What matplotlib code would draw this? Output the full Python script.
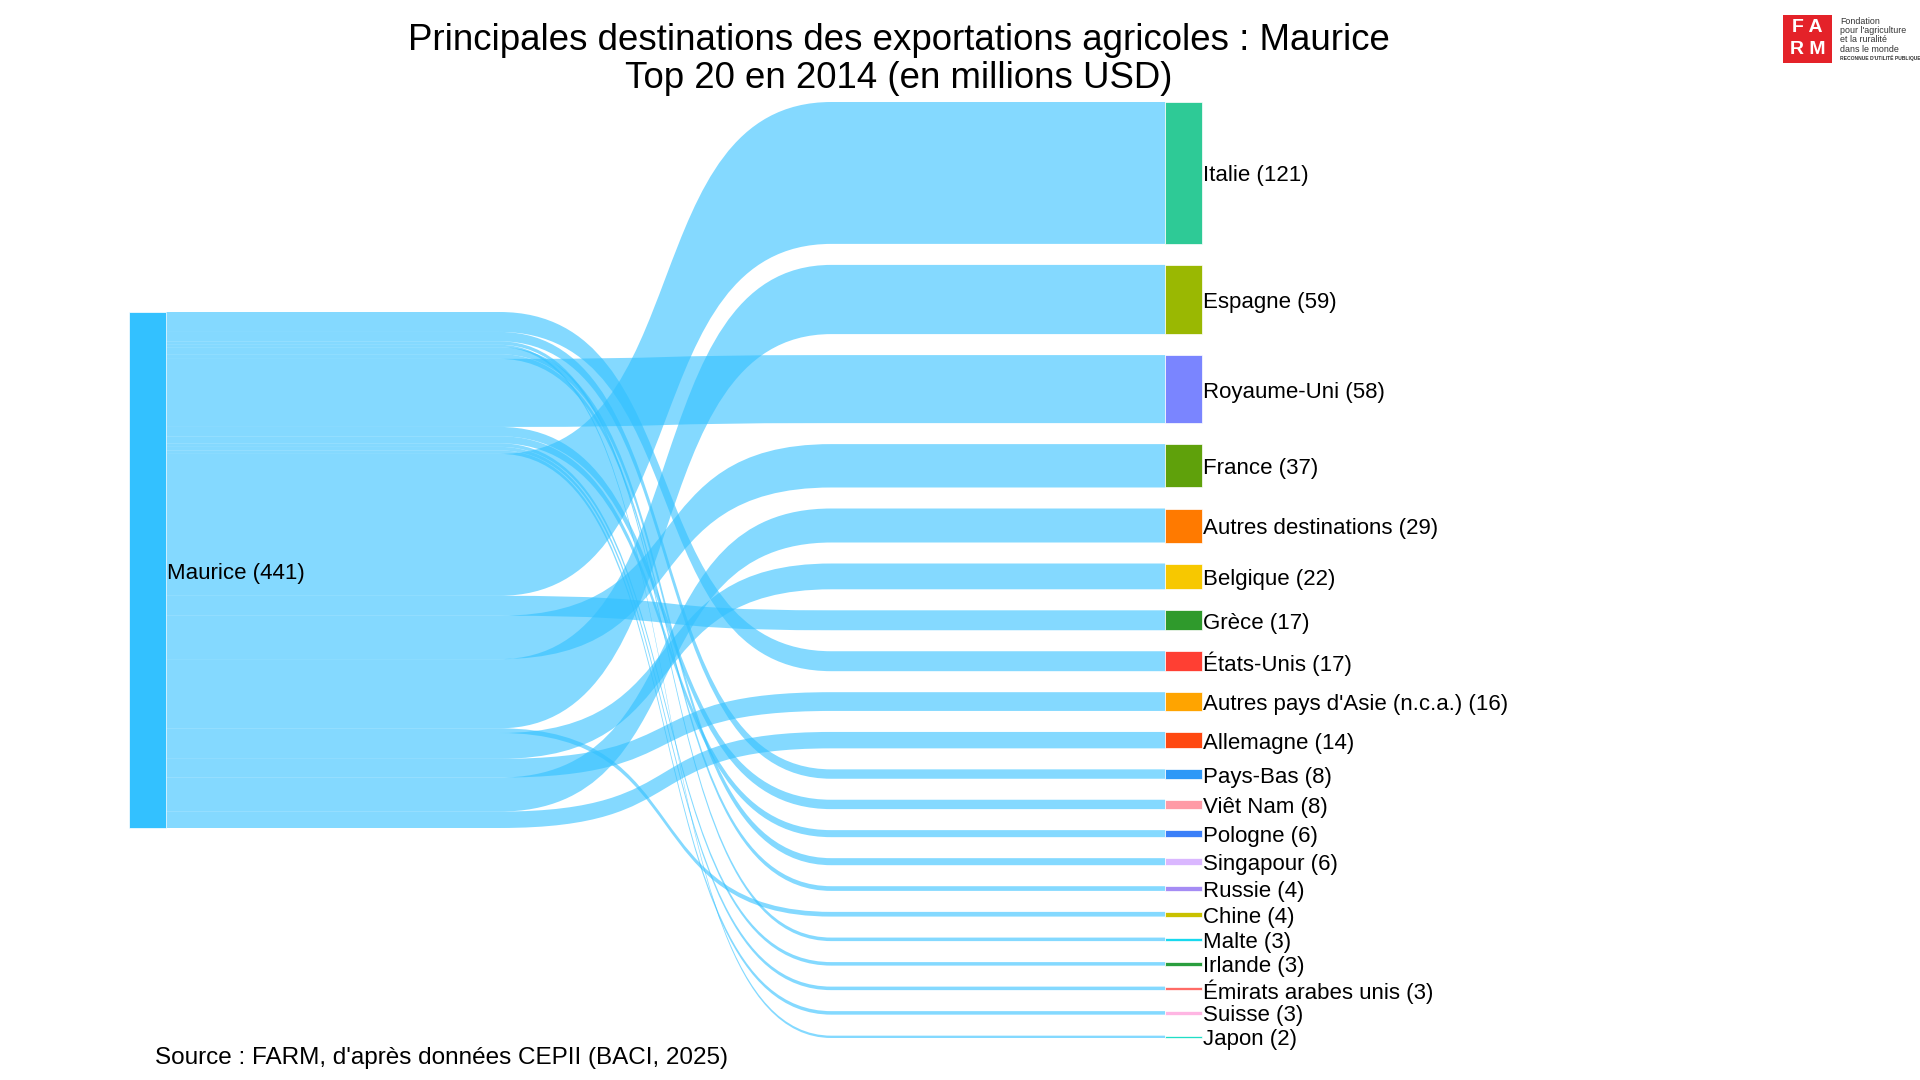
import matplotlib
matplotlib.use("Agg")
import matplotlib.pyplot as plt
from matplotlib.path import Path
from matplotlib.patches import PathPatch, Rectangle

plt.rcParams["font.family"] = ["Liberation Sans", "DejaVu Sans"]

# --- data (millions USD, 2014) ---
source_name = "Maurice"
source_total = 441
targets = ["Italie", "Espagne", "Royaume-Uni", "France", "Autres destinations",
           "Belgique", "Grèce", "États-Unis", "Autres pays d'Asie (n.c.a.)",
           "Allemagne", "Pays-Bas", "Viêt Nam", "Pologne", "Singapour", "Russie",
           "Chine", "Malte", "Irlande", "Émirats arabes unis", "Suisse", "Japon"]
values = [121, 59, 58, 37, 29, 22, 17, 17, 16, 14, 8, 8, 6, 6, 4, 4, 3, 3, 3, 3, 2]
colors = ["#2ECA96", "#9AB802", "#7A85FF", "#5FA10B", "#FF7A00", "#F7C800",
          "#2F9A2C", "#FF3F33", "#FFA400", "#FF4810", "#2E98F7", "#FF9AA6",
          "#3A7FF8", "#DAB7FF", "#A58CF4", "#C9C100", "#18D9EE", "#2A9E3E",
          "#FF6B66", "#FFB6E3", "#20DEC6"]
# order in which the flows leave the source node (top to bottom)
source_order = ["États-Unis", "Pays-Bas", "Malte", "Japon", "Singapour", "Russie",
                "Royaume-Uni", "Viêt Nam", "Pologne", "Irlande",
                "Émirats arabes unis", "Suisse", "Italie", "Grèce", "France",
                "Espagne", "Chine", "Belgique", "Autres pays d'Asie (n.c.a.)",
                "Autres destinations", "Allemagne"]

# --- layout (pixels) ---
W, H = 1920, 1080
node_w = 37
x_src = 129
x_tgt = 1165
top, bottom = 102, 1038
pad = 21
bend = 332          # horizontal extent of the S-bend in the middle of each link
ctrl = 0.6          # bezier control position inside the bend
src_color = "#33C1FF"
link_color = (50 / 255, 193 / 255, 1.0, 0.6)
label_size = 16
label_dy = 3        # nudge labels down to line up with node centres

fig = plt.figure(figsize=(W / 100, H / 100), dpi=100)
ax = fig.add_axes([0, 0, 1, 1])
ax.set_xlim(0, W)
ax.set_ylim(H, 0)
ax.axis("off")

k = (bottom - top - pad * (len(values) - 1)) / sum(values)

# target nodes
tgt_pos = {}
y = top
for name, v, c in zip(targets, values, colors):
    h = v * k
    tgt_pos[name] = (y, y + h)
    ax.add_patch(Rectangle((x_tgt, y), node_w, h, facecolor=c,
                           edgecolor="white", linewidth=0.5, zorder=3))
    ax.text(x_tgt + node_w + 1, y + h / 2 + label_dy, f"{name} ({v})",
            fontsize=label_size, va="center", ha="left", color="black", zorder=4)
    y += h + pad

# source node
src_h = sum(values) * k
src_y0 = (top + bottom) / 2 - src_h / 2
ax.add_patch(Rectangle((x_src, src_y0), node_w, src_h, facecolor=src_color,
                       edgecolor="white", linewidth=0.5, zorder=3))
ax.text(x_src + node_w + 1, src_y0 + src_h / 2 + label_dy,
        f"{source_name} ({source_total})", fontsize=label_size,
        va="center", ha="left", zorder=4)

# links
vmap = dict(zip(targets, values))
x0 = x_src + node_w
x1 = x_tgt
xm = (x0 + x1) / 2
xa, xb = xm - bend / 2, xm + bend / 2
c1 = xa + ctrl * bend
c2 = xa + (1 - ctrl) * bend
sy = src_y0
for name in source_order:
    h = vmap[name] * k
    ty0, ty1 = tgt_pos[name]
    verts = [(x0, sy), (xa, sy), (c1, sy), (c2, ty0), (xb, ty0), (x1, ty0),
             (x1, ty1), (xb, ty1), (c2, ty1), (c1, sy + h), (xa, sy + h),
             (x0, sy + h), (x0, sy)]
    codes = [Path.MOVETO, Path.LINETO, Path.CURVE4, Path.CURVE4, Path.CURVE4,
             Path.LINETO, Path.LINETO, Path.LINETO, Path.CURVE4, Path.CURVE4,
             Path.CURVE4, Path.LINETO, Path.CLOSEPOLY]
    ax.add_patch(PathPatch(Path(verts, codes), facecolor=link_color,
                           edgecolor="none", zorder=2))
    sy += h

# titles and source
ax.text(899, 40.5, "Principales destinations des exportations agricoles : Maurice",
        fontsize=26.4, ha="center", va="center")
ax.text(899, 78.5, "Top 20 en 2014 (en millions USD)", fontsize=26.4,
        ha="center", va="center")
ax.text(155, 1058, "Source : FARM, d'après données CEPII (BACI, 2025)",
        fontsize=17.5, ha="left", va="center")

# FARM logo
ax.add_patch(Rectangle((1783, 15), 49, 48, facecolor="#E42229", edgecolor="none"))
ax.text(1807.5, 28, "F A", color="white", fontsize=14, fontweight="bold",
        ha="center", va="center")
ax.text(1807.5, 50, "R M", color="white", fontsize=14, fontweight="bold",
        ha="center", va="center")
logo_lines = ["Fondation", "pour l'agriculture", "et la ruralité", "dans le monde"]
for i, line in enumerate(logo_lines):
    ax.text(1840, 21 + i * 9.5, line, fontsize=6.4, ha="left", va="center",
            color="#333333")
ax.text(1840, 58, "RECONNUE D'UTILITÉ PUBLIQUE", fontsize=3.6, ha="left",
        va="center", color="#333333", fontweight="bold")

fig.savefig("out.png", dpi=100)
